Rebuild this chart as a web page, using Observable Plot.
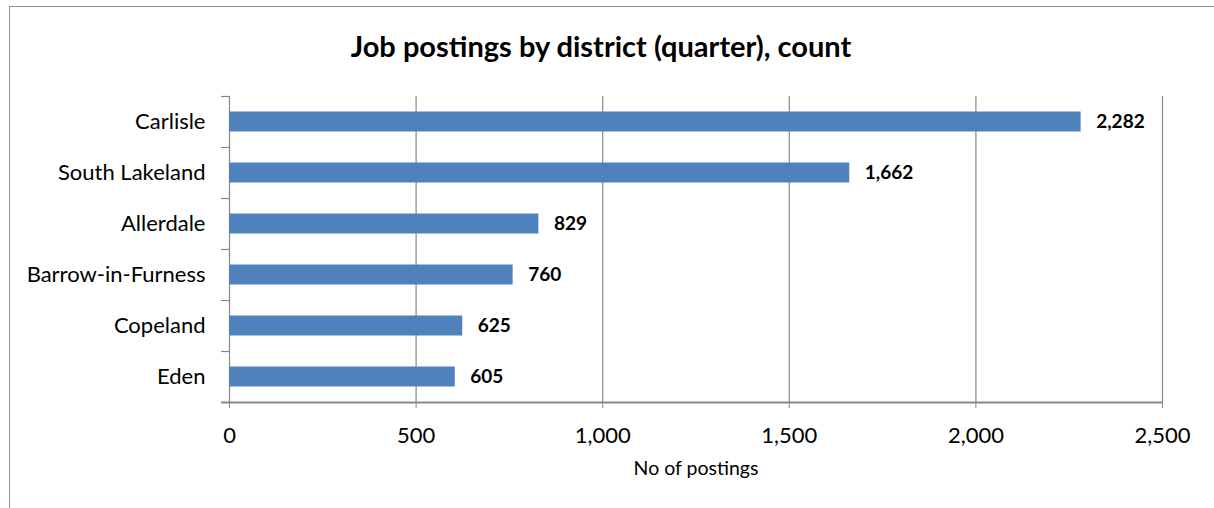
<!DOCTYPE html>
<html><head><meta charset="utf-8">
<script src="https://cdn.jsdelivr.net/npm/d3@7"></script>
<script src="https://cdn.jsdelivr.net/npm/@observablehq/plot@0.6"></script>
<style>
html,body{margin:0;padding:0;background:#fff;}
#wrap{position:relative;width:1214px;height:508px;overflow:hidden;font-family:Lato,sans-serif;}
#border{position:absolute;left:9px;top:6px;width:1240px;height:540px;border:1.5px solid #8c8c8c;box-sizing:border-box;}
#title{position:absolute;top:29px;left:0;width:1202px;text-align:center;font-weight:bold;font-size:29px;color:#000;line-height:34px;}
#chart{position:absolute;left:0;top:0;}
</style></head><body>
<div id="wrap"><div id="border"></div><div id="title">Job postings by district (quarter), count</div><div id="chart"></div></div>
<script>
const districts = ["Carlisle","South Lakeland","Allerdale","Barrow-in-Furness","Copeland","Eden"];
const postings = [2282,1662,829,760,625,605];
const xTicks = [0,500,1000,1500,2000,2500];
const xLabel = "No of postings";
const data = districts.map((d,i)=>({district:d, value: postings[i]}));
const fmt = d3.format(",");
const plot = Plot.plot({
  width:1214, height:508, marginLeft:229, marginRight:52, marginTop:96, marginBottom:106,
  style:{fontFamily:"Lato, sans-serif", background:"transparent", overflow:"visible", color:"#000"},
  x:{domain:[0,2500], ticks:xTicks},
  y:{domain:districts, padding:0},
  marks:[
    Plot.ruleX(xTicks, {stroke:"#888", strokeWidth:1.2}),
    Plot.barX(data, {x:"value", y:"district", fill:"#4F81BD", insetTop:15.5, insetBottom:15.5}),
    Plot.ruleY(districts, {y:d=>d, x1:0, x2:0, dy:-25.5, insetLeft:-8, stroke:"#888", strokeWidth:1.2}),
    Plot.ruleY([districts[districts.length-1]], {y:d=>d, x1:0, x2:2500, dy:25.5, insetLeft:-8, stroke:"#888", strokeWidth:2}),
    Plot.axisX({ticks:xTicks, tickFormat:fmt, tickSize:6, tickPadding:19, fontSize:22, label:null, stroke:"#888", fill:"#000"}),
    Plot.axisY({tickSize:0, tickPadding:24, fontSize:22, label:null, fill:"#000"}),
    Plot.text(data, {x:"value", y:"district", text:d=>fmt(d.value), textAnchor:"start", dx:15, fontWeight:"bold", fontSize:19, fill:"#000"}),
    Plot.text([xLabel], {frameAnchor:"bottom", dy:72, fontSize:19.5, fill:"#000"})
  ]
});
document.getElementById("chart").appendChild(plot);
</script>
</body></html>
